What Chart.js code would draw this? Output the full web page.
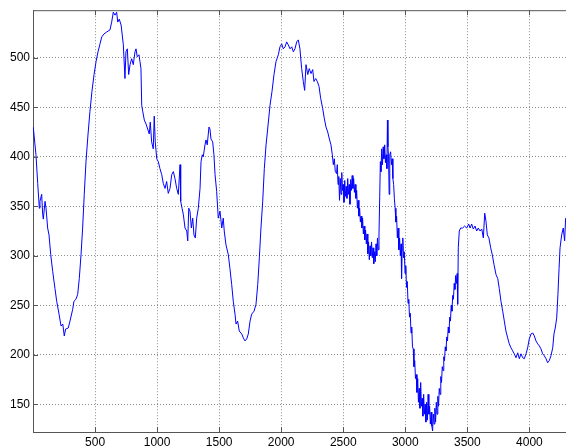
<!DOCTYPE html>
<html>
<head>
<meta charset="utf-8">
<script src="https://cdn.jsdelivr.net/npm/chart.js@4/dist/chart.umd.min.js"></script>
<style>
  html, body { margin: 0; padding: 0; background: #fff; }
  #wrap { width: 566px; height: 446px; }
</style>
</head>
<body>
<div id="wrap"><canvas id="grafico" width="566" height="446"></canvas></div>
<script>
// Dados (índice da amostra, valor)
const amostras = [
  2, 24, 38, 51, 56, 70, 78, 83, 97, 105,
  118, 129, 143, 159, 177, 191, 210, 226, 240, 252,
  263, 284, 298, 320, 330, 346, 360, 373, 387, 400,
  413, 427, 443, 459, 475, 492, 508, 524, 540, 554,
  572, 594, 620, 634, 647, 661, 674, 683, 695, 710,
  728, 741, 749, 760, 771, 782, 795, 808, 822, 830,
  840, 854, 862, 870, 876, 884, 897, 911, 924, 937,
  945, 956, 969, 977, 985, 997, 1010, 1023, 1037, 1050,
  1064, 1077, 1090, 1104, 1118, 1131, 1144, 1158, 1171, 1185,
  1190, 1201, 1211, 1225, 1239, 1247, 1255, 1265, 1276, 1287,
  1297, 1308, 1319, 1332, 1346, 1354, 1364, 1372, 1386, 1394,
  1404, 1418, 1426, 1434, 1448, 1458, 1467, 1480, 1493, 1507,
  1521, 1533, 1541, 1555, 1574, 1587, 1601, 1614, 1628, 1636,
  1649, 1662, 1682, 1695, 1708, 1722, 1735, 1749, 1762, 1781,
  1797, 1811, 1824, 1837, 1851, 1864, 1878, 1891, 1910, 1926,
  1942, 1958, 1977, 1990, 2004, 2017, 2031, 2044, 2057, 2071,
  2085, 2098, 2111, 2125, 2138, 2151, 2165, 2178, 2189, 2200,
  2214, 2226, 2240, 2254, 2264, 2278, 2291, 2305, 2318, 2334,
  2347, 2361, 2375, 2388, 2401, 2412, 2420, 2428, 2436,
  2446, 2452, 2458, 2464, 2470, 2476, 2482, 2488, 2494, 2500,
  2506, 2512, 2518, 2524, 2530, 2536, 2542, 2548, 2554, 2560,
  2566, 2572, 2578, 2584, 2590, 2596, 2602, 2608, 2614, 2620,
  2626, 2632, 2638, 2644, 2650, 2656, 2662, 2668, 2674, 2680,
  2686, 2692, 2698, 2704, 2710, 2716, 2722, 2728, 2734, 2740,
  2746, 2752, 2758, 2764, 2770, 2776, 2782, 2788, 2794, 2799,
  2804, 2810, 2816, 2822, 2828, 2834, 2840, 2846, 2852, 2856,
  2860, 2865, 2870, 2875, 2882, 2888, 2894, 2900, 2906, 2912,
  2918, 2924, 2930, 2936, 2942, 2948, 2954, 2960, 2966, 2970,
  2974, 2980, 2986, 2992, 2998, 3004, 3010, 3016, 3022, 3028,
  3034, 3040, 3046, 3052, 3058, 3064, 3070, 3076, 3082, 3088,
  3094, 3100, 3106, 3112, 3118, 3124, 3130, 3136, 3142, 3148,
  3154, 3160, 3166, 3172, 3178, 3184, 3190, 3196, 3202, 3208,
  3214, 3220, 3226, 3232, 3238, 3244, 3250, 3256, 3262, 3268,
  3274, 3280, 3286, 3292, 3298, 3304, 3310, 3316, 3322, 3328,
  3334, 3340, 3346, 3352, 3358, 3364, 3370, 3376, 3382, 3388,
  3394, 3400, 3406, 3412, 3418, 3422, 3427, 3435, 3446, 3462,
  3478, 3495, 3511, 3522, 3535,
  3548, 3562, 3575, 3588, 3602, 3616, 3629, 3640, 3650, 3661,
  3674, 3688, 3701, 3715, 3731, 3745, 3757, 3771, 3785, 3798,
  3811, 3825, 3838, 3852, 3865, 3878, 3892, 3906, 3919, 3932,
  3946, 3959, 3973, 3986, 3999, 4013, 4027, 4040, 4053, 4067,
  4080, 4093, 4107, 4120, 4134, 4147, 4160, 4174, 4188, 4198,
  4208, 4220, 4230, 4239, 4247, 4260, 4273, 4284, 4292
];
const valores = [
  430, 402, 373, 348, 355, 362, 342, 337, 355, 348,
  328, 321, 301, 284, 267, 254, 241, 229, 231, 219,
  226, 227, 234, 246, 254, 256, 261, 277, 301, 328,
  362, 395, 422, 446, 466, 483, 496, 506, 514, 521,
  524, 526, 528, 536, 546, 543, 546, 536, 539, 533,
  513, 479, 506, 509, 483, 493, 499, 493, 506, 509,
  501, 503, 496, 489, 452, 446, 437, 433, 428, 423,
  435, 415, 408, 441, 415, 398, 395, 388, 382, 373,
  368, 375, 363, 368, 382, 385, 378, 368, 362, 392,
  355, 348, 342, 328, 325, 315, 348, 345, 328, 338,
  321, 318, 338, 348, 368, 395, 402, 400, 412, 417,
  412, 430, 428, 418, 415, 402, 382, 365, 338, 345,
  328, 338, 325, 311, 301, 287, 271, 254, 241, 231,
  234, 224, 221, 217, 214, 216, 221, 234, 241, 244,
  251, 271, 298, 328, 355, 388, 412, 428, 452, 466,
  483, 496, 503, 511, 514, 509, 511, 516, 513, 509,
  511, 506, 509, 516, 518, 509, 489, 476, 467, 493,
  483, 489, 484, 488, 476, 479, 476, 471, 459, 449,
  439, 430, 425, 418, 412, 402, 392, 398, 385,
  383, 392, 372, 380, 356, 378, 362, 384, 366, 372,
  354, 376, 360, 370, 358, 378, 362, 372, 352, 377,
  366, 381, 368, 378, 364, 372, 358, 366, 348, 356,
  340, 348, 334, 340, 328, 338, 322, 330, 316, 326,
  312, 322, 302, 314, 296, 310, 300, 314, 298, 308,
  292, 304, 294, 312, 300, 318, 306, 322, 360, 395,
  385, 408, 392, 410, 398, 412, 394, 402, 388, 437,
  410, 400, 362, 402, 405, 392, 398, 378, 372, 358,
  348, 334, 340, 318, 328, 306, 318, 300, 312, 277,
  306, 318, 298, 304, 282, 290, 268, 274, 252, 256,
  238, 242, 222, 228, 208, 206, 188, 194, 176, 180,
  162, 176, 152, 166, 146, 172, 148, 156, 138, 160,
  140, 150, 132, 152, 134, 160, 140, 148, 130, 142,
  128, 123, 140, 130, 146, 132, 152, 140, 158, 148,
  166, 160, 178, 172, 188, 184, 198, 194, 208, 204,
  218, 214, 228, 222, 238, 234, 250, 244, 260, 256,
  272, 266, 280, 272, 282, 251, 308, 325, 328, 328,
  330, 328, 332, 328, 332,
  327, 330, 325, 328, 325, 327, 318, 343, 335, 321,
  318, 308, 301, 291, 281, 277, 267, 254, 244, 234,
  224, 217, 211, 207, 204, 201, 197, 202, 196, 201,
  197, 196, 201, 207, 216, 221, 222, 219, 214, 211,
  209, 206, 201, 199, 196, 192, 194, 199, 207, 221,
  227, 237, 261, 287, 308, 321, 328, 315, 338
];
const ticksX = [500, 1000, 1500, 2000, 2500, 3000, 3500, 4000];
const ticksY = [150, 200, 250, 300, 350, 400, 450, 500];

const corEixo = '#555555';

// Moldura estilo MATLAB: borda superior e marcas de escala para dentro
const molduraPlugin = {
  id: 'moldura',
  afterDraw(chart) {
    const { ctx, chartArea, scales } = chart;
    const tam = 5;
    ctx.save();
    ctx.strokeStyle = corEixo;
    ctx.lineWidth = 1;
    ctx.beginPath();
    ctx.moveTo(chartArea.left, chartArea.top + 0.5);
    ctx.lineTo(chartArea.right, chartArea.top + 0.5);
    ticksX.forEach(v => {
      const px = Math.round(scales.x.getPixelForValue(v)) + 0.5;
      ctx.moveTo(px, chartArea.bottom);
      ctx.lineTo(px, chartArea.bottom - tam);
      ctx.moveTo(px, chartArea.top);
      ctx.lineTo(px, chartArea.top + tam);
    });
    ticksY.forEach(v => {
      const py = Math.round(scales.y.getPixelForValue(v)) + 0.5;
      ctx.moveTo(chartArea.left, py);
      ctx.lineTo(chartArea.left + tam, py);
    });
    ctx.stroke();
    ctx.restore();
  }
};

const pontos = amostras.map((x, i) => ({ x: x, y: valores[i] }));

new Chart(document.getElementById('grafico').getContext('2d'), {
  type: 'line',
  data: {
    datasets: [{
      data: pontos,
      borderColor: '#0000ff',
      borderWidth: 1,
      pointRadius: 0,
      tension: 0,
      fill: false
    }]
  },
  options: {
    responsive: false,
    animation: false,
    layout: { padding: { top: 9, left: 0, right: 0, bottom: 0 } },
    plugins: {
      legend: { display: false },
      tooltip: { enabled: false }
    },
    scales: {
      x: {
        type: 'linear',
        min: 0,
        max: 4295,
        afterBuildTicks: s => { s.ticks = ticksX.map(v => ({ value: v })); },
        afterFit: s => { s.height = 14; },
        ticks: { color: '#000', font: { family: 'Liberation Sans', size: 12 }, padding: 3, maxRotation: 0, callback: v => String(v) },
        grid: { color: 'rgba(0,0,0,0.45)', drawTicks: false, lineWidth: 1 },
        border: { display: true, color: corEixo, dash: [1, 2] }
      },
      y: {
        type: 'linear',
        min: 122,
        max: 548,
        afterBuildTicks: s => { s.ticks = ticksY.map(v => ({ value: v })); },
        afterFit: s => { s.width = 33; },
        ticks: { color: '#000', font: { family: 'Liberation Sans', size: 12 }, padding: 3, callback: v => String(v) },
        grid: { color: 'rgba(0,0,0,0.45)', drawTicks: false, lineWidth: 1 },
        border: { display: true, color: corEixo, dash: [1, 2] }
      }
    }
  },
  plugins: [molduraPlugin]
});
</script>
</body>
</html>
